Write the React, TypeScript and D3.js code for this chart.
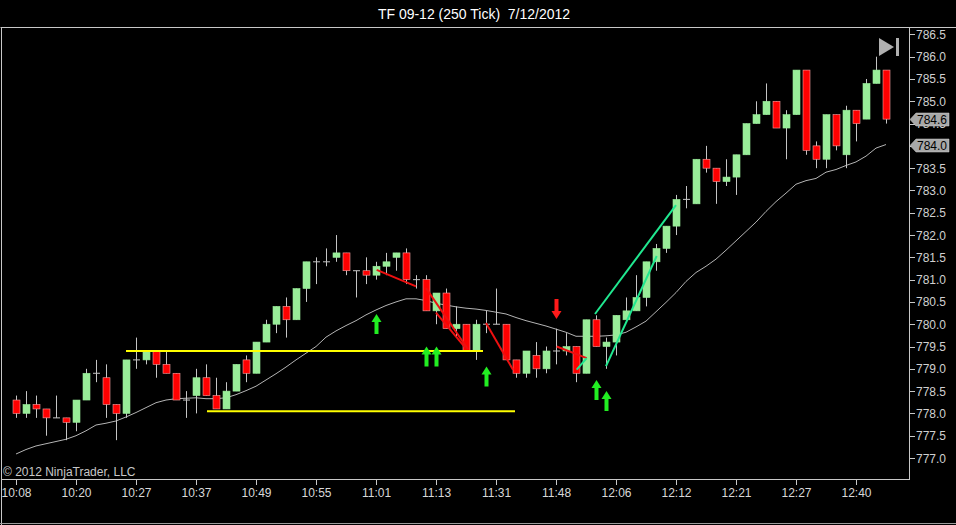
import React from "react";
import * as d3 from "d3";

const opens = [778.3,778.0,778.2,778.1,777.9,777.9,777.8,778.3,778.9,778.8,778.2,778.0,779.2,779.2,779.4,779.1,778.9,778.3,778.4,778.8,778.4,778.1,778.5,779.2,778.9,779.6,780.0,780.4,780.1,780.8,781.4,781.4,781.5,781.6,781.2,781.2,781.1,781.3,781.5,781.6,781.0,781.0,780.3,780.7,779.9,780.0,779.4,780.0,780.0,780.0,779.2,778.9,779.3,779.0,779.4,779.4,779.5,778.9,780.1,779.5,779.6,780.1,780.3,780.6,781.4,781.7,782.2,782.8,782.7,783.7,783.5,783.2,783.3,783.8,784.5,784.7,785.0,784.4,784.7,785.7,784.0,783.7,784.7,783.8,784.8,784.6,785.4,785.7];
const highs = [778.4,778.5,778.4,778.1,778.4,777.9,778.3,779.0,779.2,779.1,778.2,779.2,779.7,779.4,779.4,779.4,778.9,778.5,779.0,779.1,778.8,778.7,779.1,779.3,779.6,780.1,780.4,780.6,780.8,781.4,781.5,781.7,782.0,781.6,781.2,781.5,781.4,781.6,781.6,781.7,781.1,781.1,780.7,780.8,780.4,780.0,780.1,780.3,780.8,780.0,779.2,779.4,779.6,779.5,779.9,779.8,779.5,780.1,780.2,779.7,780.2,780.6,781.1,781.4,781.8,782.2,782.9,783.1,783.7,784.0,783.5,783.7,783.8,784.5,785.0,785.4,785.0,784.8,785.7,785.7,784.1,784.7,784.7,784.9,784.8,785.5,786.0,785.7];
const lows = [777.9,777.9,777.9,777.5,777.9,777.4,777.6,778.3,778.7,777.9,777.4,777.9,779.0,779.1,778.8,778.9,778.3,777.9,778.0,778.4,778.1,778.1,778.5,778.7,778.9,779.6,779.8,779.7,780.1,780.5,780.9,781.3,781.4,781.1,780.6,780.9,781.0,781.1,781.2,780.9,780.8,780.3,780.0,779.9,779.7,779.4,779.2,779.8,780.0,779.2,778.8,778.8,778.8,778.9,779.1,779.3,778.7,778.9,779.5,779.0,779.3,780.1,780.3,780.4,781.2,781.6,782.0,782.6,782.7,783.4,782.7,783.1,782.9,783.8,784.5,784.7,784.4,783.7,784.7,783.8,783.5,783.5,783.9,783.5,784.1,784.6,785.4,784.5];
const closes = [778.0,778.2,778.1,777.9,777.9,777.8,778.3,778.9,778.9,778.2,778.0,779.2,779.2,779.4,779.1,778.9,778.3,778.3,778.8,778.4,778.1,778.5,779.1,778.9,779.6,780.0,780.4,780.1,780.8,781.4,781.4,781.4,781.6,781.2,781.2,781.1,781.3,781.4,781.6,781.0,781.0,780.3,780.7,779.9,780.0,779.4,780.0,780.0,780.0,779.2,778.9,779.4,779.0,779.4,779.4,779.5,778.9,780.1,779.5,779.6,780.2,780.3,780.6,781.4,781.7,782.2,782.8,782.8,783.7,783.5,783.2,783.3,783.8,784.5,784.7,785.0,784.4,784.7,785.7,783.9,783.7,784.7,784.0,784.8,784.5,785.4,785.7,784.6];
const smaValues = [777.09,777.19,777.27,777.32,777.37,777.42,777.50,777.61,777.74,777.78,777.83,777.92,778.02,778.13,778.24,778.30,778.33,778.34,778.35,778.33,778.33,778.35,778.42,778.51,778.61,778.75,778.89,779.04,779.20,779.35,779.50,779.71,779.85,779.97,780.08,780.21,780.32,780.42,780.50,780.57,780.57,780.53,780.47,780.43,780.39,780.36,780.34,780.31,780.27,780.23,780.15,780.08,780.02,779.96,779.89,779.82,779.73,779.73,779.73,779.74,779.76,779.82,779.94,780.07,780.28,780.49,780.71,780.96,781.16,781.30,781.46,781.66,781.87,782.08,782.29,782.53,782.75,782.94,783.14,783.22,783.27,783.41,783.47,783.56,783.64,783.77,783.95,784.03];

const timeLabels = ["10:08","10:20","10:27","10:37","10:49","10:55","11:01","11:13","11:31","11:48","12:06","12:12","12:21","12:27","12:40"];
const timeLabelIndex = [0,6,12,18,24,30,36,42,48,54,60,66,72,78,84];

const priceTicks = d3.range(0, 20).map((k) => 777 + k * 0.5);

// drawn lines: [startIndex, startPrice, endIndex, endPrice]
const yellowLines = [
  [11, 779.4, 46.7, 779.4],
  [19.1, 778.05, 49.9, 778.05],
];
const redLines = [
  [36.07, 781.22, 40.0, 780.85],
  [41.0, 780.81, 45.2, 779.44],
  [42.0, 780.26, 44.9, 779.48],
  [47.0, 780.03, 49.7, 778.98],
  [54.07, 779.5, 57.07, 779.24],
];
const greenLines = [
  [56.07, 778.98, 57.07, 779.24],
  [57.9, 780.23, 66.0, 782.67],
  [59.0, 779.06, 64.07, 781.53],
];
const upArrowIndex = [36, 41, 42, 47, 58, 59];
const upArrowPrice = [780.23, 779.5, 779.5, 779.05, 778.75, 778.5];
const downArrowIndex = [54];
const downArrowPrice = [780.12];

const W = 956;
const H = 525;
const plotLeft = 1;
const plotTop = 27;
const plotRight = 909;
const plotBottom = 479;

export default function App() {
  const x = d3.scaleLinear().domain([0, 87]).range([16, 886]);
  const y = d3.scaleLinear().domain([777, 786.5]).range([458, 34.4]);
  const bw = 7;
  const font = "Arial, 'Liberation Sans', sans-serif";
  const smaLine = d3
    .line<number>()
    .x((_, i) => x(i))
    .y((d) => y(d));
  const lastClose = closes[closes.length - 1];
  const lastSma = smaValues[smaValues.length - 1];

  const priceBox = (p: number, key: string) => {
    const cy = Math.round(y(p)) + 0.5;
    const path = `M${plotRight + 1},${cy} L${plotRight + 7},${cy - 6.5} L${plotRight + 40},${cy - 6.5} L${plotRight + 40},${cy + 6.5} L${plotRight + 7},${cy + 6.5} Z`;
    return (
      <g key={key}>
        <path d={path} fill="#a8a8a8" stroke="#d0d0d0" strokeWidth={0.5} />
        <text x={plotRight + 8} y={cy + 4.5} fontSize={12} fill="#000" fontFamily={font}>
          {p.toFixed(1)}
        </text>
      </g>
    );
  };

  const smaBoxY = y(lastSma);

  return (
    <svg
      width={W}
      height={H}
      style={{ position: "fixed", left: 0, top: 0, display: "block" }}
    >
      <rect x={0} y={0} width={W} height={H} fill="#000" />
      <text
        x={474}
        y={19}
        textAnchor="middle"
        fill="#ffffff"
        fontSize={14}
        fontFamily={font}
        style={{ whiteSpace: "pre" }}
      >
        {"TF 09-12 (250 Tick)  7/12/2012"}
      </text>

      {/* frame */}
      <line x1={plotLeft - 0.5} x2={W} y1={plotTop + 0.5} y2={plotTop + 0.5} stroke="#c8c8c8" strokeWidth={1} />
      <line x1={1.5} x2={1.5} y1={plotTop} y2={H} stroke="#c8c8c8" strokeWidth={1} />
      <line x1={plotRight + 0.5} x2={plotRight + 0.5} y1={plotTop} y2={plotBottom + 0.5} stroke="#c8c8c8" strokeWidth={1} />
      <line x1={plotLeft} x2={plotRight + 1} y1={plotBottom + 0.5} y2={plotBottom + 0.5} stroke="#c8c8c8" strokeWidth={1} />
      <line x1={0} x2={W} y1={H - 1.5} y2={H - 1.5} stroke="#9a9a9a" strokeWidth={1} />

      {/* price axis */}
      {priceTicks.map((p) => (
        <g key={"pt" + p}>
          <line x1={plotRight} x2={plotRight + 6} y1={Math.round(y(p)) + 0.5} y2={Math.round(y(p)) + 0.5} stroke="#c8c8c8" />
          {Math.abs(y(p) - smaBoxY) > 4 ? (
            <text x={plotRight + 7} y={y(p) + 4.5} fontSize={12} fill="#d0d0d0" fontFamily={font}>
              {p.toFixed(1)}
            </text>
          ) : null}
        </g>
      ))}

      {/* time axis */}
      {timeLabelIndex.map((idx, k) => (
        <g key={"tl" + k}>
          <line x1={Math.round(x(idx)) + 0.5} x2={Math.round(x(idx)) + 0.5} y1={plotBottom} y2={plotBottom + 6} stroke="#c8c8c8" />
          <text x={x(idx) + 0.5} y={497} textAnchor="middle" fontSize={12} fill="#d8d8d8" fontFamily={font}>
            {timeLabels[k]}
          </text>
        </g>
      ))}

      <text x={3} y={476} fontSize={12} fill="#c8c8c8" fontFamily={font}>
        © 2012 NinjaTrader, LLC
      </text>

      {/* SMA */}
      <path d={smaLine(smaValues) || ""} fill="none" stroke="#b4b4b4" strokeWidth={1} />

      {/* candles */}
      {opens.map((o, i) => {
        const c = closes[i];
        const cx = Math.round(x(i)) + 0.5;
        const up = c > o;
        const down = c < o;
        const top = y(Math.max(o, c));
        const bot = y(Math.min(o, c));
        return (
          <g key={"c" + i}>
            <line x1={cx} x2={cx} y1={y(highs[i])} y2={y(lows[i])} stroke="#c4c4c4" strokeWidth={1} />
            {up || down ? (
              <rect
                x={cx - bw / 2}
                y={top}
                width={bw}
                height={Math.max(1, bot - top)}
                fill={up ? "#98ec98" : "#ff0000"}
                stroke={up ? "#98ec98" : "#f4a0a0"}
                strokeWidth={0.6}
              />
            ) : (
              <line x1={cx - bw / 2} x2={cx + bw / 2} y1={y(o)} y2={y(o)} stroke="#c4c4c4" strokeWidth={1} />
            )}
          </g>
        );
      })}

      {/* drawn lines */}
      {yellowLines.map((l, k) => (
        <line key={"yl" + k} x1={x(l[0])} y1={y(l[1])} x2={x(l[2])} y2={y(l[3])} stroke="#ffff00" strokeWidth={2} />
      ))}
      {redLines.map((l, k) => (
        <line key={"rl" + k} x1={x(l[0])} y1={y(l[1])} x2={x(l[2])} y2={y(l[3])} stroke="#ee1010" strokeWidth={2} />
      ))}
      {greenLines.map((l, k) => (
        <line key={"gl" + k} x1={x(l[0])} y1={y(l[1])} x2={x(l[2])} y2={y(l[3])} stroke="#20e890" strokeWidth={2} />
      ))}

      {/* arrows */}
      {upArrowIndex.map((idx, k) => {
        const ax = x(idx) + 0.5;
        const ay = y(upArrowPrice[k]);
        const d = `M${ax},${ay} L${ax + 5},${ay + 8} L${ax + 2},${ay + 8} L${ax + 2},${ay + 20} L${ax - 2},${ay + 20} L${ax - 2},${ay + 8} L${ax - 5},${ay + 8} Z`;
        return <path key={"ua" + k} d={d} fill="#22ee22" />;
      })}
      {downArrowIndex.map((idx, k) => {
        const ax = x(idx) + 0.5;
        const ay = y(downArrowPrice[k]);
        const d = `M${ax},${ay} L${ax + 5},${ay - 8} L${ax + 2},${ay - 8} L${ax + 2},${ay - 20} L${ax - 2},${ay - 20} L${ax - 2},${ay - 8} L${ax - 5},${ay - 8} Z`;
        return <path key={"da" + k} d={d} fill="#ff1a1a" />;
      })}

      {/* play icon */}
      <path d="M879,38 L894,47 L879,56 Z" fill="#b0b0b0" />
      <rect x={896} y={38} width={3} height={18} fill="#b0b0b0" />

      {priceBox(lastClose, "pc")}
      {priceBox(lastSma, "ps")}
    </svg>
  );
}
